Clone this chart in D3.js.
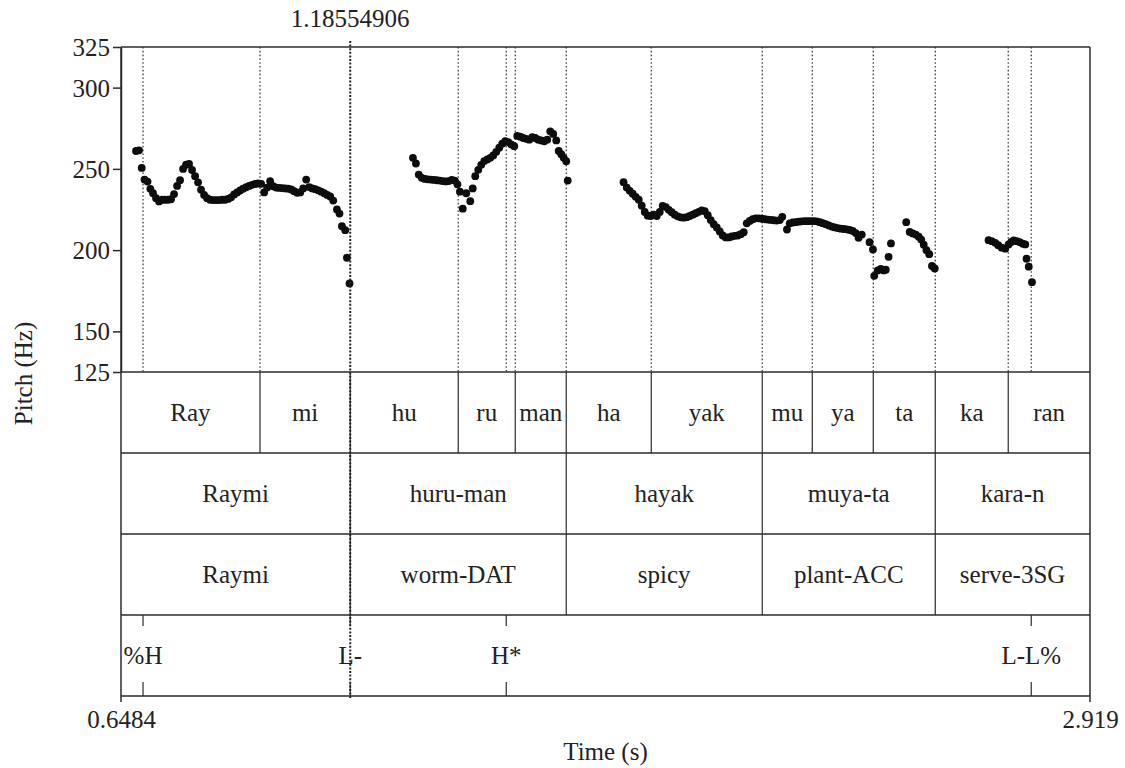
<!DOCTYPE html>
<html>
<head>
<meta charset="utf-8">
<script src="https://cdn.jsdelivr.net/npm/d3@7/dist/d3.min.js"></script>
<style>
  html, body { margin: 0; padding: 0; background: #fff; }
  svg { display: block; }
  svg text { font-family: "Liberation Serif", "DejaVu Serif", serif !important; fill: #222; }
</style>
</head>
<body>
<svg id="chart" width="1125" height="768"></svg>
<script>
// Time window of the utterance (s) and pitch range (Hz)
const timeDomain = [0.6484, 2.919];
const timeTickLabels = ["0.6484", "2.919"];
const pitchDomain = [125, 325];
const pitchTicks = [125, 150, 200, 250, 300, 325];
const cursorTime = 1.18554906;
const cursorLabel = "1.18554906";

// Syllable tier: labels and interval end times
const syllableLabels = ["Ray", "mi", "hu", "ru", "man", "ha", "yak", "mu", "ya", "ta", "ka", "ran"];
const syllableEnds = [0.9741, 1.18554906, 1.4386, 1.5722, 1.6917, 1.8909, 2.1510, 2.2682, 2.4111, 2.5564, 2.7274, 2.919];

// Word tier and gloss tier share the same interval ends
const wordLabels = ["Raymi", "huru-man", "hayak", "muya-ta", "kara-n"];
const glossLabels = ["Raymi", "worm-DAT", "spicy", "plant-ACC", "serve-3SG"];
const wordEnds = [1.18554906, 1.6917, 2.1510, 2.5564, 2.919];

// Tone tier (points)
const toneLabels = ["%H", "L-", "H*", "L-L%"];
const toneTimes = [0.7000, 1.18554906, 1.5511, 2.7813];

// Pitch track, [time (s), F0 (Hz)], one array per voiced stretch
const pitchRaymi = [
  [0.6836,261],[0.6906,261.4],[0.6970,250.6],[0.7035,243.4],[0.7106,242.2],[0.7171,237.7],
  [0.7235,235],[0.7305,232],[0.7375,230],[0.7446,231],[0.7516,231],[0.7586,231],
  [0.7657,231.3],[0.7727,234.5],[0.7798,239.5],[0.7868,243],[0.7938,250],[0.8009,252.6],
  [0.8079,253],[0.8149,249.3],[0.8220,245.5],[0.8290,241.7],[0.8360,237.2],[0.8431,234],
  [0.8501,232],[0.8572,231],[0.8642,230.8],[0.8712,230.8],[0.8783,230.8],[0.8853,231],
  [0.8923,231],[0.8994,231.5],[0.9064,232.5],[0.9135,234.3],[0.9205,235.5],[0.9275,236.7],
  [0.9346,237.8],[0.9416,238.7],[0.9486,239.5],[0.9557,240.2],[0.9627,240.7],[0.9697,241],
  [0.9768,240.8],[0.9838,235.5],[0.9909,238.5],[0.9979,242.4],[1.0049,239.3],[1.0120,238.5],
  [1.0190,238.3],[1.0260,238.2],[1.0331,238],[1.0401,237.8],[1.0472,237.3],[1.0542,236.3],
  [1.0612,235.3],[1.0683,235.5],[1.0753,238],[1.0823,243.4],[1.0894,238.8],[1.0964,238],
  [1.1035,237.5],[1.1105,236.8],[1.1175,236],[1.1246,235],[1.1316,234],[1.1386,233],
  [1.1457,230.5],[1.1544,225],[1.1604,222.5],[1.1661,214.7],[1.1738,212.3],[1.1778,195.3],
  [1.1839,179.5]
];
const pitchHuruman = [
  [1.3325,256.8],[1.3395,253.3],[1.3461,246.5],[1.3531,244.5],[1.3601,243.8],[1.3672,243.6],
  [1.3742,243.4],[1.3812,243.2],[1.3883,243],[1.3953,242.8],[1.4023,242.5],[1.4093,242.3],
  [1.4164,242.5],[1.4234,243.2],[1.4304,242.8],[1.4368,240.5],[1.4426,236],[1.4492,225.5],
  [1.4574,235],[1.4668,230.1],[1.4726,238],[1.4785,245.5],[1.4855,249.4],[1.4925,252.5],
  [1.4996,254.8],[1.5066,255.8],[1.5136,256.8],[1.5206,258.3],[1.5277,260.5],[1.5347,263],
  [1.5417,265.5],[1.5488,267],[1.5558,266.5],[1.5628,265],[1.5699,264],[1.5769,270.3],
  [1.5839,269.8],[1.5909,269],[1.5980,268.5],[1.6050,268],[1.6120,269.5],[1.6191,269],
  [1.6261,268],[1.6331,267.5],[1.6402,267],[1.6472,268],[1.6542,273.1],[1.6612,271.5],
  [1.6683,267.5],[1.6741,261],[1.6800,259],[1.6858,256.8],[1.6917,254.7],[1.6952,242.8]
];
const pitchHayakMuya = [
  [1.8260,241.8],[1.8335,238.5],[1.8405,236.5],[1.8475,234.7],[1.8546,232.8],[1.8616,231],
  [1.8686,227.3],[1.8757,223.5],[1.8827,221.2],[1.8897,221],[1.8967,221.9],[1.9038,221],
  [1.9108,223.5],[1.9178,227.2],[1.9249,226.5],[1.9319,224.8],[1.9389,223.3],[1.9460,221.8],
  [1.9530,220.8],[1.9600,220.2],[1.9670,220],[1.9741,220.3],[1.9811,221],[1.9881,221.8],
  [1.9952,222.7],[2.0022,223.6],[2.0092,224.5],[2.0163,224],[2.0233,221.5],[2.0303,218.5],
  [2.0373,216],[2.0444,214],[2.0514,211.5],[2.0584,209],[2.0655,207.8],[2.0725,207.8],
  [2.0795,208.4],[2.0866,208.8],[2.0936,209],[2.1006,209.8],[2.1076,211],[2.1147,216.5],
  [2.1217,218],[2.1287,219],[2.1358,219.6],[2.1428,219.6],[2.1498,219.3],[2.1569,219],
  [2.1639,218.8],[2.1709,218.6],[2.1779,218.4],[2.1850,218.2],[2.1920,218.5],[2.1979,220.5],
  [2.2089,212.7],[2.2154,216.5],[2.2225,217],[2.2295,217.2],[2.2365,217.5],[2.2436,217.7],
  [2.2506,217.8],[2.2576,217.8],[2.2646,217.9],[2.2717,217.9],[2.2787,217.7],[2.2857,217.2],
  [2.2928,216.6],[2.2998,216],[2.3068,215.2],[2.3139,214.5],[2.3209,214],[2.3279,213.6],
  [2.3349,213.2],[2.3420,213],[2.3490,212.8],[2.3560,212.4],[2.3631,211.8],[2.3701,210.5],
  [2.3767,207.6],[2.3842,209.6],[2.4024,204.9],[2.4104,200.4],[2.4134,184.2],[2.4216,187.5],
  [2.4287,188.5],[2.4357,187.5],[2.4404,188],[2.4470,195.9],[2.4526,204.1]
];
const pitchTa = [
  [2.4884,217.2],[2.4966,211.2],[2.5037,210.3],[2.5107,209.6],[2.5177,208.3],[2.5236,206.5],
  [2.5294,203.3],[2.5358,200],[2.5423,197.5],[2.5487,190.3],[2.5552,188.7]
];
const pitchKaran = [
  [2.6813,206.1],[2.6888,205.5],[2.6970,204.5],[2.7040,203],[2.7122,201.5],[2.7204,200.9],
  [2.7282,203.5],[2.7345,205],[2.7403,206],[2.7474,205.5],[2.7544,204.9],[2.7614,204],
  [2.7673,203.5],[2.7703,194.7],[2.7755,189.8],[2.7830,180.3]
];

// ---- layout ----
const L = 121, R = 1090, T = 47, B = 372;
const tierEdges = [372, 453, 534, 615, 696];
const ink = "#2b2b2b";
const serif = "'Liberation Serif', 'DejaVu Serif', serif";

const svg = d3.select("#chart");
const x = d3.scaleLinear().domain(timeDomain).range([L, R]);
const y = d3.scaleLinear().domain(pitchDomain).range([B, T]);

// interval tiers built from label/end arrays
function intervals(labels, ends) {
  return labels.map((lab, i) => ({ label: lab, start: i === 0 ? timeDomain[0] : ends[i - 1], end: ends[i] }));
}
const syllables = intervals(syllableLabels, syllableEnds);
const words = intervals(wordLabels, wordEnds);
const glosses = intervals(glossLabels, wordEnds);
const tones = toneLabels.map((lab, i) => ({ label: lab, time: toneTimes[i] }));

// dotted guide lines in the pitch panel at every syllable boundary and tone point
const guideTimes = syllableEnds.slice(0, -1).filter(t => t !== cursorTime)
  .concat(toneTimes.filter(t => t !== cursorTime));
svg.append("g").selectAll("line").data(guideTimes).join("line")
  .attr("x1", d => x(d)).attr("x2", d => x(d))
  .attr("y1", T).attr("y2", B)
  .attr("stroke", "#333").attr("stroke-width", 1.2)
  .attr("stroke-dasharray", "1.6,2.2");

// pitch points
const pitchAll = [].concat(pitchRaymi, pitchHuruman, pitchHayakMuya, pitchTa, pitchKaran);
svg.append("g").selectAll("circle").data(pitchAll).join("circle")
  .attr("cx", d => x(d[0])).attr("cy", d => y(d[1]))
  .attr("r", 3.9).attr("fill", "#0d0d0d");

// tier rows
const tierRows = [syllables, words, glosses];
tierRows.forEach((rows, k) => {
  const top = tierEdges[k], bot = tierEdges[k + 1];
  const g = svg.append("g");
  g.selectAll("line").data(rows.slice(1)).join("line")
    .attr("x1", d => x(d.start)).attr("x2", d => x(d.start))
    .attr("y1", top).attr("y2", bot)
    .attr("stroke", ink).attr("stroke-width", 1.2);
  g.selectAll("text").data(rows).join("text")
    .attr("x", d => (x(d.start) + x(d.end)) / 2)
    .attr("y", (top + bot) / 2 + 8.5)
    .attr("text-anchor", "middle")
    .attr("font-family", serif)
    .attr("font-size", 25)
    .text(d => d.label);
});

// tone tier: ticks at top and bottom with label at the point
{
  const top = tierEdges[3], bot = tierEdges[4];
  const g = svg.append("g");
  g.selectAll("line.top").data(tones).join("line").attr("class", "top")
    .attr("x1", d => x(d.time)).attr("x2", d => x(d.time))
    .attr("y1", top).attr("y2", top + 11)
    .attr("stroke", ink).attr("stroke-width", 1.2);
  g.selectAll("line.bot").data(tones).join("line").attr("class", "bot")
    .attr("x1", d => x(d.time)).attr("x2", d => x(d.time))
    .attr("y1", bot - 14).attr("y2", bot)
    .attr("stroke", ink).attr("stroke-width", 1.2);
  g.selectAll("text").data(tones).join("text")
    .attr("x", d => x(d.time))
    .attr("y", (top + bot) / 2 + 8.5)
    .attr("text-anchor", "middle")
    .attr("font-family", serif)
    .attr("font-size", 25)
    .text(d => d.label);
}

// horizontal frame lines: top, tier separators, bottom
svg.append("g").selectAll("line").data([T].concat(tierEdges)).join("line")
  .attr("x1", L).attr("x2", R)
  .attr("y1", d => d).attr("y2", d => d)
  .attr("stroke", ink).attr("stroke-width", 1.5);

// left and right frame edges (extend past the bottom line as end ticks)
svg.append("g").selectAll("line").data([L, R]).join("line")
  .attr("x1", d => d).attr("x2", d => d)
  .attr("y1", T).attr("y2", tierEdges[4] + 6)
  .attr("stroke", ink).attr("stroke-width", 1.5);

// cursor
svg.append("line")
  .attr("x1", x(cursorTime)).attr("x2", x(cursorTime))
  .attr("y1", T - 6).attr("y2", tierEdges[4] + 2)
  .attr("stroke", "#222").attr("stroke-width", 2)
  .attr("stroke-dasharray", "2,1.6");
svg.append("text")
  .attr("x", x(cursorTime)).attr("y", 27)
  .attr("text-anchor", "middle")
  .attr("font-family", serif).attr("font-size", 25)
  .text(cursorLabel);

// pitch axis
const yAxis = svg.append("g").attr("transform", `translate(${L},0)`)
  .call(d3.axisLeft(y).tickValues(pitchTicks).tickSize(8).tickSizeOuter(0).tickPadding(3)
    .tickFormat(d3.format("d")));
yAxis.attr("font-family", serif).attr("font-size", 25);
yAxis.select(".domain").attr("stroke", ink).attr("stroke-width", 1.5);
yAxis.selectAll(".tick line").attr("stroke", ink).attr("stroke-width", 1.5);
yAxis.selectAll(".tick text").attr("fill", "#222").attr("dy", "0.34em");

// time axis (start and end labels only)
const xAxis = svg.append("g").attr("transform", `translate(0,${tierEdges[4]})`)
  .call(d3.axisBottom(x).tickValues(timeDomain).tickSize(6).tickSizeOuter(0).tickPadding(8)
    .tickFormat((d, i) => timeTickLabels[i]));
xAxis.attr("font-family", serif).attr("font-size", 25);
xAxis.select(".domain").remove();
xAxis.selectAll(".tick line").remove();
xAxis.selectAll(".tick text").attr("fill", "#222");

// axis titles
svg.append("text")
  .attr("x", (L + R) / 2).attr("y", 760)
  .attr("text-anchor", "middle")
  .attr("font-family", serif).attr("font-size", 25)
  .text("Time (s)");
svg.append("text")
  .attr("transform", `translate(32,${(T + 696) / 2 + 2}) rotate(-90)`)
  .attr("text-anchor", "middle")
  .attr("font-family", serif).attr("font-size", 25)
  .text("Pitch (Hz)");
</script>
</body>
</html>
